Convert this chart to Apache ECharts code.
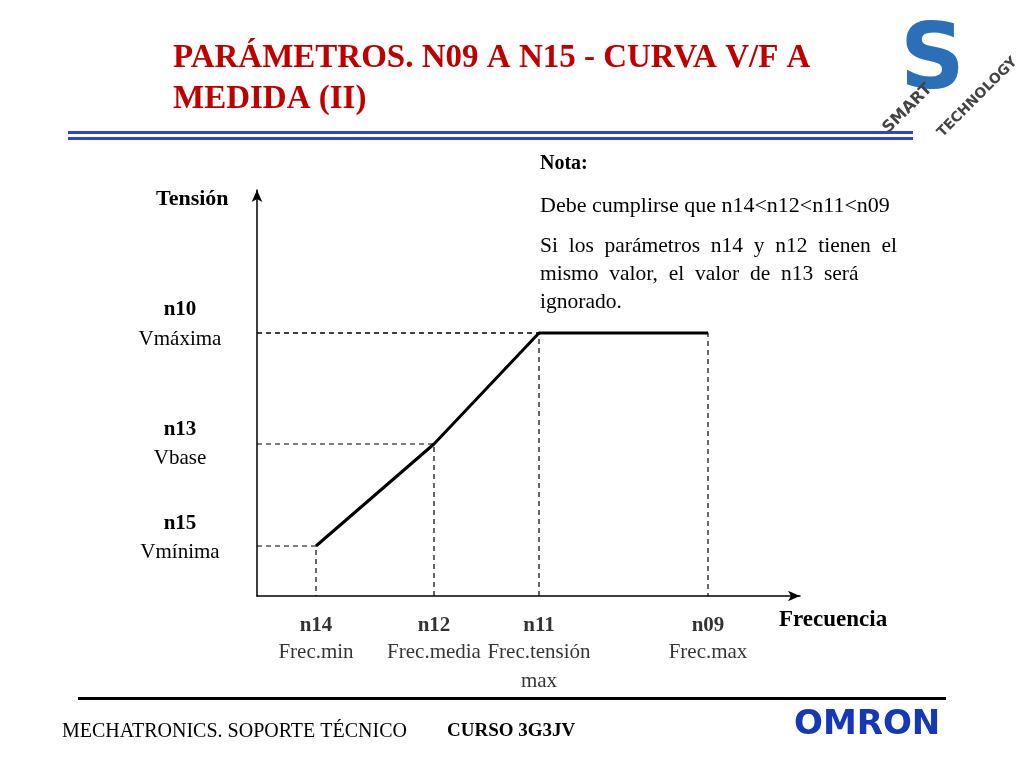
<!DOCTYPE html>
<html><head><meta charset="utf-8">
<script src="https://cdn.jsdelivr.net/npm/echarts@6/dist/echarts.min.js"></script>
<style>html,body{margin:0;padding:0;background:#fff}#c{width:1024px;height:768px}</style>
</head><body><div id="c"></div>
<script>
const freqLabels = ['n14','n12','n11','n09'];
const freqNames = ['Frec.min','Frec.media','Frec.tensión\nmax','Frec.max'];
const freqValues = [59, 177, 282, 451];
const voltValues = [50, 152, 263, 263];
const serif = 'Liberation Serif';
const chart = echarts.init(document.getElementById('c'));
const curve = freqValues.map((x,i)=>[x, voltValues[i]]);
const dashed = curve.map(p=>({
  type:'line', data:[[0,p[1]],[p[0],p[1]],[p[0],0]], symbol:'none', silent:true,
  lineStyle:{color:'#000',width:1.2,type:[5,4]}, z:1
}));
const t = (x,y,text,o={})=>({type:'text',left:x,top:y,style:Object.assign({text,fill:'#000',font:`21px ${serif}`},o)});
const c = (x,y,text,o={})=>({type:'text',x:x,y:y,style:Object.assign({text,fill:'#000',font:`21px ${serif}`,align:'center',verticalAlign:'middle'},o)});
const g = [
  t(173,42,'PARÁMETROS. N09 A N15 - CURVA V/F A',{fill:'#c00000',font:`bold 33px ${serif}`}),
  t(173,83,'MEDIDA (II)',{fill:'#c00000',font:`bold 33px ${serif}`}),
  {type:'rect',shape:{x:68,y:131,width:845,height:3},style:{fill:'#3344cc'}},
  {type:'rect',shape:{x:68,y:137,width:845,height:3},style:{fill:'#3344cc'}},
  {type:'rect',shape:{x:78,y:697,width:868,height:3},style:{fill:'#000'}},
  t(540,154,'Nota:',{font:`bold 20px ${serif}`}),
  t(540,195,'Debe cumplirse que n14<n12<n11<n09',{font:`22px ${serif}`}),
  t(540,235,'Si  los  parámetros  n14  y  n12  tienen  el',{font:`21.5px ${serif}`}),
  t(540,263,'mismo  valor,  el  valor  de  n13  será',{font:`21.5px ${serif}`}),
  t(540,291,'ignorado.',{font:`21.5px ${serif}`}),
  t(156,188,'Tensión',{font:`bold 22px ${serif}`}),
  t(779,609,'Frecuencia',{font:`bold 23px ${serif}`}),
  c(180,310,'n10',{font:`bold 21px ${serif}`}),
  c(180,339,'Vmáxima'),
  c(180,430,'n13',{font:`bold 21px ${serif}`}),
  c(180,458,'Vbase'),
  c(180,524,'n15',{font:`bold 21px ${serif}`}),
  c(180,552,'Vmínima'),
  t(62,722,'MECHATRONICS. SOPORTE TÉCNICO',{font:`20px ${serif}`}),
  t(447,722,'CURSO 3G3JV',{font:`bold 19px ${serif}`}),
  t(794,708,'OMRON',{fill:'#1438b8',font:'bold 34px "DejaVu Sans"'}),
  {type:'text',left:900,top:20,style:{text:'S',fill:'#2a6fb8',font:'bold 90px "DejaVu Sans"'}},
  {type:'text',x:880,y:125,rotation:Math.PI/4,style:{text:'SMART',fill:'#444',font:'bold 16px "DejaVu Sans"'}},
  {type:'text',x:935,y:130,rotation:Math.PI/4,style:{text:'TECHNOLOGY',fill:'#444',font:'bold 14px "DejaVu Sans"'}}
];
chart.setOption({
  animation:false,
  grid:{left:257,right:224,top:190,bottom:172},
  xAxis:{type:'value',min:0,max:543,splitLine:{show:false},axisTick:{show:false},
    axisLabel:{show:false},axisLine:{symbol:['none','arrow'],symbolSize:[8,12],lineStyle:{color:'#000',width:1.5}}},
  yAxis:{type:'value',min:0,max:406,splitLine:{show:false},axisTick:{show:false},
    axisLabel:{show:false},axisLine:{symbol:['none','arrow'],symbolSize:[8,12],lineStyle:{color:'#000',width:1.5}}},
  series:[...dashed,
    {type:'line',data:curve,symbol:'none',lineStyle:{color:'#000',width:3},z:3},
    {type:'scatter',data:freqValues.map((x,i)=>[x,0,i]),symbolSize:0,silent:true,
      label:{show:true,position:'bottom',distance:17,
        formatter:p=>`{a|${freqLabels[p.value[2]]}}\n{b|${freqNames[p.value[2]]}}`,
        rich:{a:{fontFamily:serif,fontWeight:'bold',fontSize:21,color:'#000',lineHeight:25},
              b:{fontFamily:serif,fontSize:21,color:'#000',lineHeight:29}}}}
  ],
  graphic:g
});
</script></body></html>
